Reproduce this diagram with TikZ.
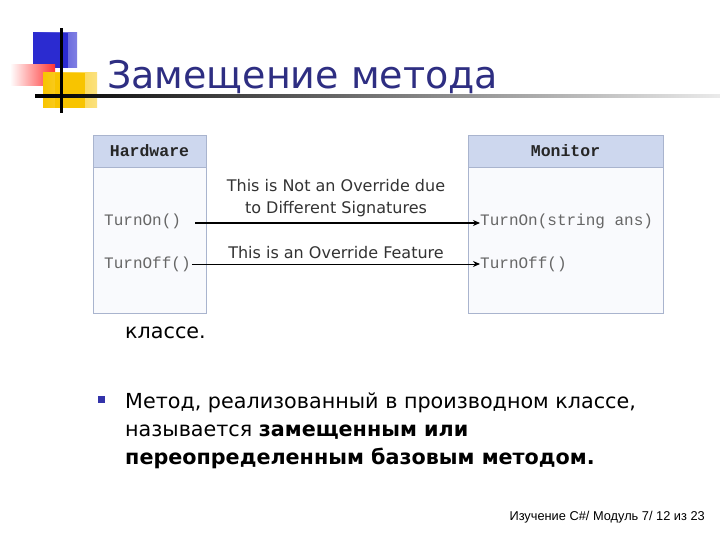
\documentclass[tikz,border=0pt]{standalone}
\usepackage{fontspec}
\setmainfont{DejaVu Sans}
\newfontfamily\monofont{Liberation Mono}
\newfontfamily\footfont{Liberation Sans}
\usetikzlibrary{arrows.meta}
\definecolor{titleblue}{HTML}{2E2E82}
\definecolor{hdrfill}{HTML}{CDD7EE}
\definecolor{boxfill}{HTML}{F9FAFD}
\definecolor{boxline}{HTML}{A9B4CE}
\definecolor{codegray}{HTML}{666666}
\definecolor{decoblue}{HTML}{2B2BD0}
\definecolor{decoyellow}{HTML}{F8C400}
\definecolor{bulletblue}{HTML}{3333AA}
\tikzset{
  box/.style={draw=boxline, fill=boxfill, line width=0.8pt},
  hdr/.style={draw=boxline, fill=hdrfill, line width=0.8pt},
  hdrtext/.style={font=\monofont\bfseries\fontsize{16.5}{17}\selectfont, text=black!85, inner sep=0pt},
  code/.style={font=\monofont\fontsize{16}{17}\selectfont, text=codegray, inner sep=0pt, anchor=west},
  lbl/.style={font=\fontsize{16}{22}\selectfont, text=black!80, inner sep=0pt, align=center},
  body/.style={font=\fontsize{20.7}{28}\selectfont, inner sep=0pt, anchor=base west},
  arr/.style={-{Stealth[length=7pt,width=6pt]}, black}
}
\begin{document}
\begin{tikzpicture}[x=1pt,y=-1pt]
\useasboundingbox (0,0) rectangle (720,540);
\fill[white] (0,0) rectangle (720,540);
% decoration
\shade[left color=decoblue, right color=decoblue!60!white] (33,33) rectangle (77,68);
\fill[decoblue] (33,33) rectangle (68,68);
\shade[left color=white, right color=red!80] (10,65) rectangle (55,86);
\shade[left color=decoyellow, right color=decoyellow!50!white] (43,73) rectangle (97,108);
\fill[decoyellow] (55,73) rectangle (85,108);
\shade[left color=black, right color=black!8] (35,94.5) rectangle (720,97.5);
\fill[black] (60,28) rectangle (63,113);
% title
\node[font=\fontsize{38}{42}\selectfont, text=titleblue, anchor=base west, inner sep=0pt] (title) at (107,89) {Замещение метода};
% boxes
\draw[box] (93,135) rectangle (206,313);
\draw[hdr] (93,135) rectangle (206,167);
\node[hdrtext] (hw) at (149.5,151) {Hardware};
\draw[box] (468,135) rectangle (663,313);
\draw[hdr] (468,135) rectangle (663,167);
\node[hdrtext] (mon) at (565.5,151) {Monitor};
\node[code] (hon) at (104,221) {TurnOn()};
\node[code] (hoff) at (104,264) {TurnOff()};
\node[code] (mon1) at (480,221) {TurnOn(string ans)};
\node[code] (moff) at (480,264) {TurnOff()};
\draw[arr, line width=1.8pt] (hon.east) ++(14,2) coordinate (a1) -- (a1 -| mon1.west);
\draw[arr, line width=1pt] (hoff.east) ++(1,0) coordinate (a2) -- (a2 -| moff.west);
\node[lbl] (l1) at (336,198) {This is Not an Override due\\to Different Signatures};
\node[lbl] (l2) at (336,253) {This is an Override Feature};
% body text
\node[body] (t0) at (125,338) {классе.};
\fill[bulletblue] (98,396) rectangle (105,403) node[coordinate] (bul) {};
\node[body] (t1) at (125,408) {Метод, реализованный в производном классе,};
\node[body] (t2) at (125,436) {называется \textbf{замещенным или}};
\node[body] (t3) at (125,464) {\textbf{переопределенным базовым методом.}};
\node[font=\footfont\fontsize{12.8}{13}\selectfont, anchor=base east, inner sep=0pt] (foot) at (705,520) {Изучение C\#/ Модуль 7/ 12 из 23};
\end{tikzpicture}
\end{document}
